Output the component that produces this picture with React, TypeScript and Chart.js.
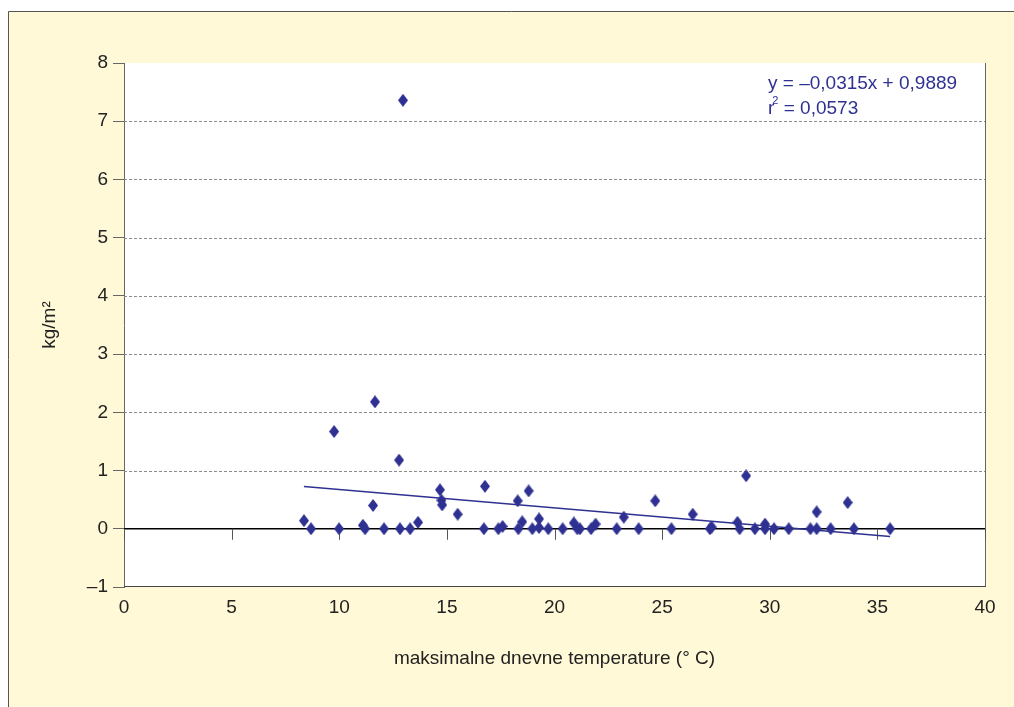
import React, { useEffect, useRef } from 'react';
import { Chart, registerables } from 'chart.js';

Chart.register(...registerables);

// measured values (max daily temperature °C, kg/m²)
const tempX = [
  8.36, 8.69, 9.76, 9.99, 11.1, 11.2, 11.57, 11.66, 12.08, 12.78, 12.82, 12.96, 13.29, 13.66,
  14.68, 14.75, 14.78, 15.5, 16.72, 16.77, 17.39, 17.59, 18.29, 18.32, 18.5, 18.8, 18.97,
  19.28, 19.28, 19.71, 20.38, 20.9, 21.06, 21.18, 21.7, 21.91, 22.89, 23.22, 23.91, 24.68,
  25.43, 26.42, 27.22, 27.3, 28.5, 28.6, 28.9, 29.31, 29.78, 29.78, 30.2, 30.88, 31.89,
  32.18, 32.18, 32.83, 33.62, 33.91, 35.59,
];
const massY = [
  0.14, 0, 1.67, 0, 0.06, 0, 0.4, 2.18, 0, 1.18, 0, 7.36, 0, 0.11,
  0.67, 0.49, 0.41, 0.25, 0, 0.73, 0, 0.04, 0.48, 0, 0.12, 0.65, 0,
  0.17, 0.02, 0, 0, 0.1, 0, 0, 0, 0.08, 0, 0.2, 0, 0.48,
  0, 0.25, 0, 0.03, 0.11, 0, 0.91, 0, 0.08, 0, 0, 0, 0,
  0.29, 0, 0, 0.45, 0, 0,
];
const xTicks = [0, 5, 10, 15, 20, 25, 30, 35, 40];
const yTicks = [-1, 0, 1, 2, 3, 4, 5, 6, 7, 8];
const trendSlope = -0.0315;
const trendIntercept = 0.9889;
const equationText = 'y = \u20130,0315x + 0,9889';
const r2Value = ' = 0,0573';
const xTitle = 'maksimalne dnevne temperature (\u00b0 C)';
const yTitle = 'kg/m\u00b2';

const NAVY = '#2E3192';
const FONT = '"Liberation Sans", Arial, Helvetica, sans-serif';
const FS = 19;

function makeDiamond(color: string) {
  const c = document.createElement('canvas');
  c.width = 10;
  c.height = 13;
  const g = c.getContext('2d')!;
  g.fillStyle = color;
  g.beginPath();
  g.moveTo(5, 0);
  g.lineTo(10, 6.5);
  g.lineTo(5, 13);
  g.lineTo(0, 6.5);
  g.closePath();
  g.fill();
  return c;
}

const framePlugin = {
  id: 'frame',
  beforeDraw(chart: any) {
    const { ctx, chartArea: a } = chart;
    ctx.save();
    ctx.fillStyle = '#FFF9D7';
    ctx.fillRect(8, 11, chart.width - 8, chart.height - 11);
    ctx.strokeStyle = '#555';
    ctx.lineWidth = 1;
    ctx.beginPath();
    ctx.moveTo(8.5, chart.height);
    ctx.lineTo(8.5, 11.5);
    ctx.lineTo(chart.width, 11.5);
    ctx.stroke();
    ctx.fillStyle = '#ffffff';
    ctx.fillRect(a.left, a.top, a.right - a.left, a.bottom - a.top);
    ctx.restore();
  },
  beforeDatasetsDraw(chart: any) {
    const { ctx, chartArea: a, scales } = chart;
    const x = scales.x;
    const y = scales.y;
    ctx.save();
    // dashed gridlines
    ctx.strokeStyle = '#8a8a8a';
    ctx.lineWidth = 1;
    ctx.setLineDash([3, 2]);
    yTicks.forEach((v) => {
      if (v <= 0 || v >= 8) return;
      const py = Math.round(y.getPixelForValue(v)) + 0.5;
      ctx.beginPath();
      ctx.moveTo(a.left, py);
      ctx.lineTo(a.right, py);
      ctx.stroke();
    });
    ctx.setLineDash([]);
    // right and bottom border
    ctx.strokeStyle = '#666';
    ctx.beginPath();
    ctx.moveTo(Math.round(a.right) + 0.5, a.top);
    ctx.lineTo(Math.round(a.right) + 0.5, a.bottom);
    ctx.stroke();
    ctx.strokeStyle = '#444';
    ctx.beginPath();
    ctx.moveTo(a.left, Math.round(a.bottom) - 0.5);
    ctx.lineTo(a.right + 1, Math.round(a.bottom) - 0.5);
    ctx.stroke();
    // zero line and x tick marks
    const py0 = y.getPixelForValue(0);
    ctx.strokeStyle = '#000';
    ctx.lineWidth = 1.5;
    ctx.beginPath();
    ctx.moveTo(a.left, py0);
    ctx.lineTo(a.right, py0);
    ctx.stroke();
    ctx.strokeStyle = '#555';
    ctx.lineWidth = 1;
    xTicks.forEach((v) => {
      const px = Math.round(x.getPixelForValue(v)) + 0.5;
      ctx.beginPath();
      ctx.moveTo(px, py0);
      ctx.lineTo(px, py0 + 11);
      ctx.stroke();
    });
    ctx.restore();
  },
  afterDraw(chart: any) {
    const { ctx } = chart;
    ctx.save();
    ctx.fillStyle = NAVY;
    ctx.textBaseline = 'alphabetic';
    ctx.textAlign = 'left';
    ctx.font = `${FS}px ${FONT}`;
    const ex = 768;
    ctx.fillText(equationText, ex, 89);
    ctx.fillText('r', ex, 114);
    const wr = ctx.measureText('r').width;
    ctx.font = `11px ${FONT}`;
    ctx.fillText('2', ex + wr - 2, 104);
    const w2 = ctx.measureText('2').width;
    ctx.font = `${FS}px ${FONT}`;
    ctx.fillText(r2Value, ex + wr - 2 + w2, 114);
    ctx.restore();
  },
};

export default function App() {
  const ref = useRef<HTMLCanvasElement | null>(null);

  useEffect(() => {
    if (!ref.current) return;
    const points = tempX.map((t, i) => ({ x: t, y: massY[i] }));
    const xMin = Math.min(...tempX);
    const xMax = Math.max(...tempX);
    const trend = [
      { x: xMin, y: trendSlope * xMin + trendIntercept },
      { x: xMax, y: trendSlope * xMax + trendIntercept },
    ];
    const diamond = makeDiamond(NAVY);

    const chart = new Chart(ref.current, {
      type: 'scatter',
      data: {
        datasets: [
          {
            data: points,
            pointStyle: diamond as any,
            pointRadius: 6,
            backgroundColor: NAVY,
            borderColor: NAVY,
          },
          {
            data: trend,
            showLine: true,
            pointRadius: 0,
            borderColor: NAVY,
            borderWidth: 1.5,
          },
        ],
      },
      options: {
        responsive: false,
        animation: false,
        events: [],
        layout: { padding: { top: 63, right: 29, left: 0, bottom: 0 } },
        plugins: { legend: { display: false }, tooltip: { enabled: false } },
        font: { family: FONT },
        scales: {
          x: {
            type: 'linear',
            min: 0,
            max: 40,
            afterBuildTicks: (s: any) => {
              s.ticks = xTicks.map((v) => ({ value: v }));
            },
            ticks: { font: { size: FS, family: FONT }, color: '#222', padding: 9 },
            grid: { display: false, drawTicks: false },
            border: { display: false },
            title: {
              display: true,
              text: xTitle,
              font: { size: FS, family: FONT },
              color: '#222',
              padding: { top: 0, bottom: 37 },
            },
            afterFit: (s: any) => {
              s.height = 120;
            },
          },
          y: {
            type: 'linear',
            min: -1,
            max: 8,
            afterBuildTicks: (s: any) => {
              s.ticks = yTicks.map((v) => ({ value: v }));
            },
            ticks: {
              font: { size: FS, family: FONT },
              color: '#222',
              padding: 5,
              callback: (v: any) => (Number(v) < 0 ? '\u2013' + Math.abs(Number(v)) : String(v)),
            },
            grid: {
              drawOnChartArea: false,
              drawTicks: true,
              tickLength: 11,
              tickColor: '#666',
              color: '#666',
            },
            border: { display: true, color: '#666', width: 1 },
            title: {
              display: true,
              text: yTitle,
              font: { size: FS, family: FONT },
              color: '#222',
              padding: { top: 38, bottom: 0 },
            },
            afterFit: (s: any) => {
              s.width = 124;
            },
          },
        },
      },
      plugins: [framePlugin],
    } as any);

    return () => chart.destroy();
  }, []);

  return (
    <canvas
      ref={ref}
      width={1014}
      height={707}
      style={{ position: 'fixed', left: 0, top: 0, width: 1014, height: 707, display: 'block' }}
    />
  );
}
